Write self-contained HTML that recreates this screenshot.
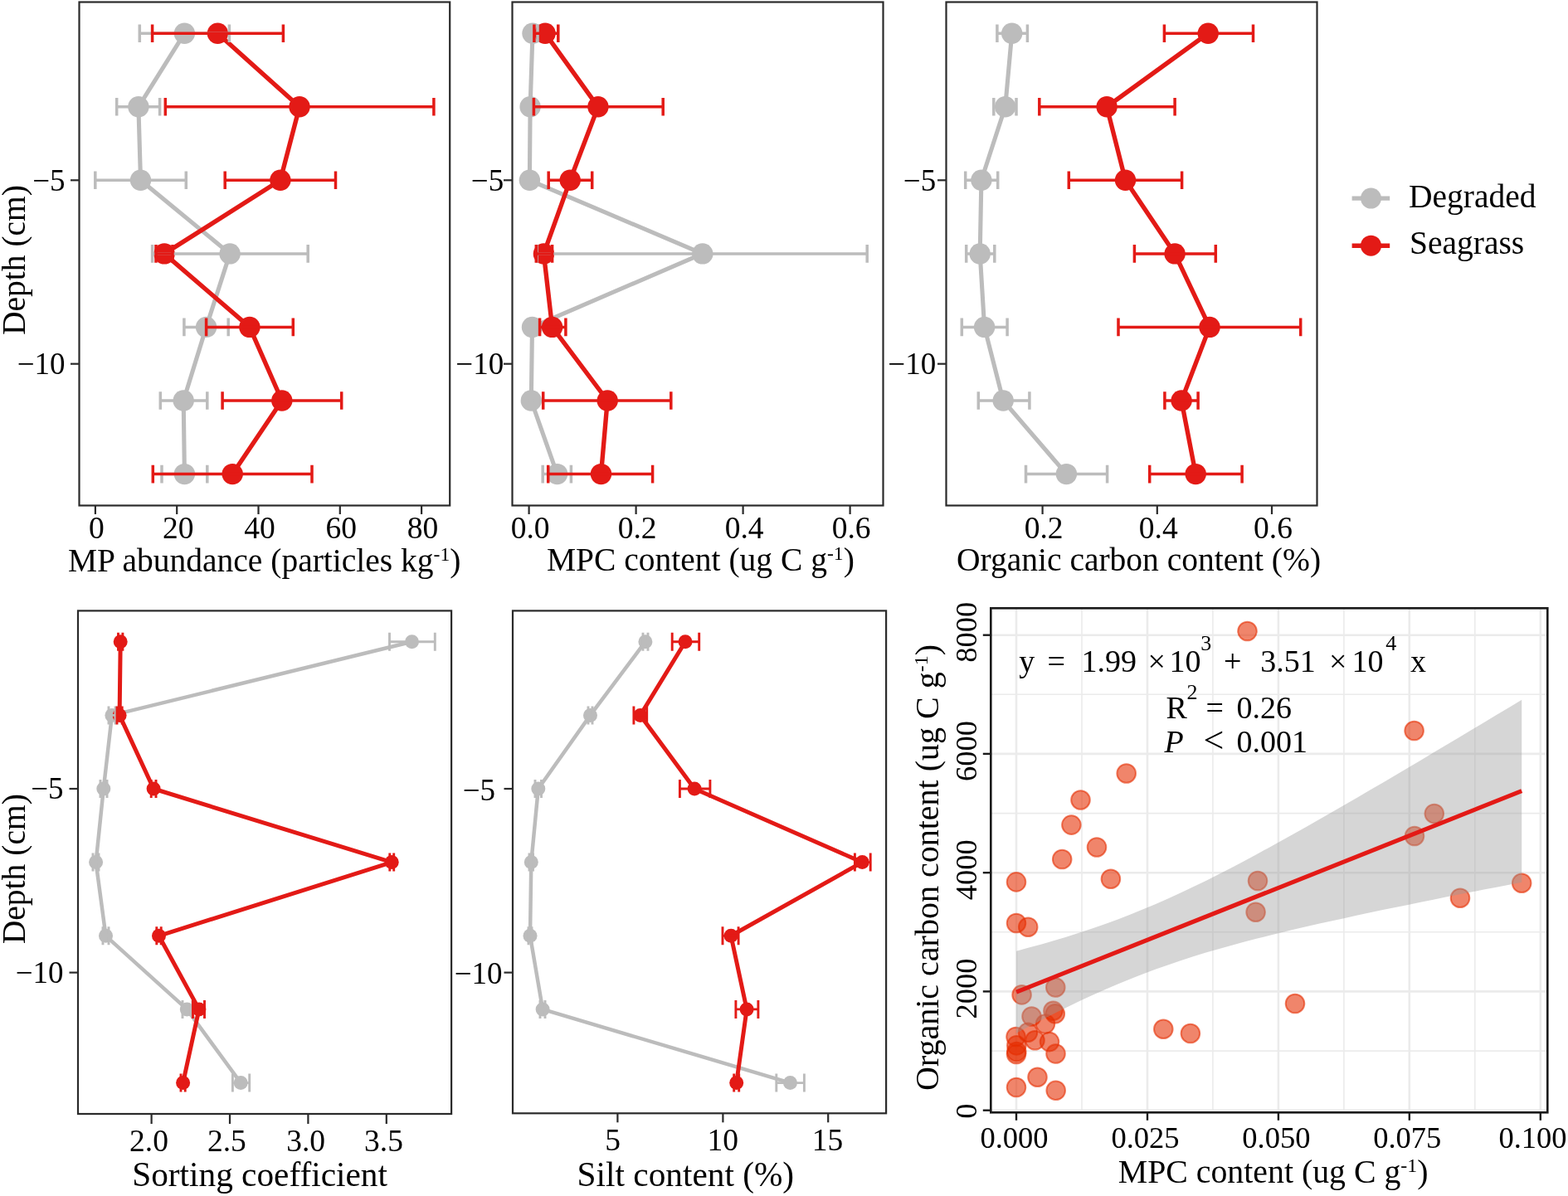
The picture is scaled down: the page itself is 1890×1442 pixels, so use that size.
<!DOCTYPE html><html><head><meta charset="utf-8"><title>Figure</title><style>html,body{margin:0;padding:0;background:#fff;}svg{display:block;}text{font-family:'Liberation Serif', 'Times New Roman', serif;fill:#000;}</style></head><body>
<svg width="1890" height="1442" viewBox="0 0 1890 1442">
<rect width="1890" height="1442" fill="#fff"/>
<polyline points="222.4,40.2 166.9,128.8 169.5,217.3 277.1,305.9 248.6,394.4 221.2,483.0 222.4,571.6" fill="none" stroke="#BCBCBC" stroke-width="5.1" stroke-linejoin="round"/>
<polyline points="262.4,40.2 361.0,128.8 337.9,217.3 198.1,305.9 300.9,394.4 339.8,483.0 280.2,571.6" fill="none" stroke="#E31A16" stroke-width="5.4" stroke-linejoin="round"/>
<circle cx="222.4" cy="40.2" r="12.7" fill="#BCBCBC"/>
<circle cx="166.9" cy="128.8" r="12.7" fill="#BCBCBC"/>
<circle cx="169.5" cy="217.3" r="12.7" fill="#BCBCBC"/>
<circle cx="277.1" cy="305.9" r="12.7" fill="#BCBCBC"/>
<circle cx="248.6" cy="394.4" r="12.7" fill="#BCBCBC"/>
<circle cx="221.2" cy="483.0" r="12.7" fill="#BCBCBC"/>
<circle cx="222.4" cy="571.6" r="12.7" fill="#BCBCBC"/>
<circle cx="262.4" cy="40.2" r="12.7" fill="#E31A16"/>
<circle cx="361.0" cy="128.8" r="12.7" fill="#E31A16"/>
<circle cx="337.9" cy="217.3" r="12.7" fill="#E31A16"/>
<circle cx="198.1" cy="305.9" r="12.7" fill="#E31A16"/>
<circle cx="300.9" cy="394.4" r="12.7" fill="#E31A16"/>
<circle cx="339.8" cy="483.0" r="12.7" fill="#E31A16"/>
<circle cx="280.2" cy="571.6" r="12.7" fill="#E31A16"/>
<path d="M168.3,40.2H276.4M168.3,29.4V51.0M276.4,29.4V51.0" stroke="#BCBCBC" stroke-width="3.5" fill="none"/>
<path d="M140.7,128.8H192.6M140.7,118.0V139.6M192.6,118.0V139.6" stroke="#BCBCBC" stroke-width="3.5" fill="none"/>
<path d="M114.8,217.3H224.3M114.8,206.5V228.1M224.3,206.5V228.1" stroke="#BCBCBC" stroke-width="3.5" fill="none"/>
<path d="M183.6,305.9H371.2M183.6,295.1V316.7M371.2,295.1V316.7" stroke="#BCBCBC" stroke-width="3.5" fill="none"/>
<path d="M221.9,394.4H275.2M221.9,383.6V405.2M275.2,383.6V405.2" stroke="#BCBCBC" stroke-width="3.5" fill="none"/>
<path d="M193.3,483.0H249.8M193.3,472.2V493.8M249.8,472.2V493.8" stroke="#BCBCBC" stroke-width="3.5" fill="none"/>
<path d="M195.0,571.6H249.8M195.0,560.8V582.4M249.8,560.8V582.4" stroke="#BCBCBC" stroke-width="3.5" fill="none"/>
<path d="M183.6,40.2H341.4M183.6,29.4V51.0M341.4,29.4V51.0" stroke="#E31A16" stroke-width="3.5" fill="none"/>
<path d="M199.3,128.8H522.9M199.3,118.0V139.6M522.9,118.0V139.6" stroke="#E31A16" stroke-width="3.5" fill="none"/>
<path d="M271.2,217.3H404.5M271.2,206.5V228.1M404.5,206.5V228.1" stroke="#E31A16" stroke-width="3.5" fill="none"/>
<path d="M188.0,305.9H208.0M188.0,295.1V316.7M208.0,295.1V316.7" stroke="#E31A16" stroke-width="3.5" fill="none"/>
<path d="M248.6,394.4H353.3M248.6,383.6V405.2M353.3,383.6V405.2" stroke="#E31A16" stroke-width="3.5" fill="none"/>
<path d="M268.1,483.0H411.7M268.1,472.2V493.8M411.7,472.2V493.8" stroke="#E31A16" stroke-width="3.5" fill="none"/>
<path d="M184.3,571.6H376.0M184.3,560.8V582.4M376.0,560.8V582.4" stroke="#E31A16" stroke-width="3.5" fill="none"/>
<rect x="95.5" y="2.5" width="446.70000000000005" height="607.0" fill="none" stroke="#2a2a2a" stroke-width="2.2"/>
<polyline points="642.0,40.2 639.1,128.8 638.4,217.3 846.8,305.9 641.5,394.4 640.3,483.0 671.6,571.6" fill="none" stroke="#BCBCBC" stroke-width="5.1" stroke-linejoin="round"/>
<polyline points="657.1,40.2 720.9,128.8 687.2,217.3 655.4,305.9 665.6,394.4 732.2,483.0 724.5,571.6" fill="none" stroke="#E31A16" stroke-width="5.4" stroke-linejoin="round"/>
<circle cx="642.0" cy="40.2" r="12.7" fill="#BCBCBC"/>
<circle cx="639.1" cy="128.8" r="12.7" fill="#BCBCBC"/>
<circle cx="638.4" cy="217.3" r="12.7" fill="#BCBCBC"/>
<circle cx="846.8" cy="305.9" r="12.7" fill="#BCBCBC"/>
<circle cx="641.5" cy="394.4" r="12.7" fill="#BCBCBC"/>
<circle cx="640.3" cy="483.0" r="12.7" fill="#BCBCBC"/>
<circle cx="671.6" cy="571.6" r="12.7" fill="#BCBCBC"/>
<circle cx="657.1" cy="40.2" r="12.7" fill="#E31A16"/>
<circle cx="720.9" cy="128.8" r="12.7" fill="#E31A16"/>
<circle cx="687.2" cy="217.3" r="12.7" fill="#E31A16"/>
<circle cx="655.4" cy="305.9" r="12.7" fill="#E31A16"/>
<circle cx="665.6" cy="394.4" r="12.7" fill="#E31A16"/>
<circle cx="732.2" cy="483.0" r="12.7" fill="#E31A16"/>
<circle cx="724.5" cy="571.6" r="12.7" fill="#E31A16"/>
<path d="M637.0,40.2H648.0M637.0,29.4V51.0M648.0,29.4V51.0" stroke="#BCBCBC" stroke-width="3.5" fill="none"/>
<path d="M635.0,128.8H643.0M635.0,118.0V139.6M643.0,118.0V139.6" stroke="#BCBCBC" stroke-width="3.5" fill="none"/>
<path d="M635.0,217.3H642.0M635.0,206.5V228.1M642.0,206.5V228.1" stroke="#BCBCBC" stroke-width="3.5" fill="none"/>
<path d="M647.0,305.9H1045.2M647.0,295.1V316.7M1045.2,295.1V316.7" stroke="#BCBCBC" stroke-width="3.5" fill="none"/>
<path d="M637.0,394.4H646.0M637.0,383.6V405.2M646.0,383.6V405.2" stroke="#BCBCBC" stroke-width="3.5" fill="none"/>
<path d="M636.0,483.0H645.0M636.0,472.2V493.8M645.0,472.2V493.8" stroke="#BCBCBC" stroke-width="3.5" fill="none"/>
<path d="M654.2,571.6H688.4M654.2,560.8V582.4M688.4,560.8V582.4" stroke="#BCBCBC" stroke-width="3.5" fill="none"/>
<path d="M643.9,40.2H672.8M643.9,29.4V51.0M672.8,29.4V51.0" stroke="#E31A16" stroke-width="3.5" fill="none"/>
<path d="M643.4,128.8H799.2M643.4,118.0V139.6M799.2,118.0V139.6" stroke="#E31A16" stroke-width="3.5" fill="none"/>
<path d="M661.2,217.3H713.7M661.2,206.5V228.1M713.7,206.5V228.1" stroke="#E31A16" stroke-width="3.5" fill="none"/>
<path d="M646.3,305.9H665.6M646.3,295.1V316.7M665.6,295.1V316.7" stroke="#E31A16" stroke-width="3.5" fill="none"/>
<path d="M650.6,394.4H681.9M650.6,383.6V405.2M681.9,383.6V405.2" stroke="#E31A16" stroke-width="3.5" fill="none"/>
<path d="M654.7,483.0H808.8M654.7,472.2V493.8M808.8,472.2V493.8" stroke="#E31A16" stroke-width="3.5" fill="none"/>
<path d="M660.7,571.6H786.6M660.7,560.8V582.4M786.6,560.8V582.4" stroke="#E31A16" stroke-width="3.5" fill="none"/>
<rect x="617.5" y="2.5" width="447.0" height="607.0" fill="none" stroke="#2a2a2a" stroke-width="2.2"/>
<polyline points="1219.7,40.2 1211.7,128.8 1182.9,217.3 1181.2,305.9 1186.6,394.4 1209.2,483.0 1285.4,571.6" fill="none" stroke="#BCBCBC" stroke-width="5.1" stroke-linejoin="round"/>
<polyline points="1456.2,40.2 1334.1,128.8 1356.5,217.3 1416.1,305.9 1458.0,394.4 1424.1,483.0 1441.2,571.6" fill="none" stroke="#E31A16" stroke-width="5.4" stroke-linejoin="round"/>
<circle cx="1219.7" cy="40.2" r="12.7" fill="#BCBCBC"/>
<circle cx="1211.7" cy="128.8" r="12.7" fill="#BCBCBC"/>
<circle cx="1182.9" cy="217.3" r="12.7" fill="#BCBCBC"/>
<circle cx="1181.2" cy="305.9" r="12.7" fill="#BCBCBC"/>
<circle cx="1186.6" cy="394.4" r="12.7" fill="#BCBCBC"/>
<circle cx="1209.2" cy="483.0" r="12.7" fill="#BCBCBC"/>
<circle cx="1285.4" cy="571.6" r="12.7" fill="#BCBCBC"/>
<circle cx="1456.2" cy="40.2" r="12.7" fill="#E31A16"/>
<circle cx="1334.1" cy="128.8" r="12.7" fill="#E31A16"/>
<circle cx="1356.5" cy="217.3" r="12.7" fill="#E31A16"/>
<circle cx="1416.1" cy="305.9" r="12.7" fill="#E31A16"/>
<circle cx="1458.0" cy="394.4" r="12.7" fill="#E31A16"/>
<circle cx="1424.1" cy="483.0" r="12.7" fill="#E31A16"/>
<circle cx="1441.2" cy="571.6" r="12.7" fill="#E31A16"/>
<path d="M1201.9,40.2H1238.4M1201.9,29.4V51.0M1238.4,29.4V51.0" stroke="#BCBCBC" stroke-width="3.5" fill="none"/>
<path d="M1197.8,128.8H1225.0M1197.8,118.0V139.6M1225.0,118.0V139.6" stroke="#BCBCBC" stroke-width="3.5" fill="none"/>
<path d="M1163.7,217.3H1202.7M1163.7,206.5V228.1M1202.7,206.5V228.1" stroke="#BCBCBC" stroke-width="3.5" fill="none"/>
<path d="M1164.7,305.9H1198.8M1164.7,295.1V316.7M1198.8,295.1V316.7" stroke="#BCBCBC" stroke-width="3.5" fill="none"/>
<path d="M1159.3,394.4H1214.1M1159.3,383.6V405.2M1214.1,383.6V405.2" stroke="#BCBCBC" stroke-width="3.5" fill="none"/>
<path d="M1179.3,483.0H1240.9M1179.3,472.2V493.8M1240.9,472.2V493.8" stroke="#BCBCBC" stroke-width="3.5" fill="none"/>
<path d="M1236.5,571.6H1334.6M1236.5,560.8V582.4M1334.6,560.8V582.4" stroke="#BCBCBC" stroke-width="3.5" fill="none"/>
<path d="M1403.4,40.2H1510.5M1403.4,29.4V51.0M1510.5,29.4V51.0" stroke="#E31A16" stroke-width="3.5" fill="none"/>
<path d="M1252.8,128.8H1416.1M1252.8,118.0V139.6M1416.1,118.0V139.6" stroke="#E31A16" stroke-width="3.5" fill="none"/>
<path d="M1288.3,217.3H1424.6M1288.3,206.5V228.1M1424.6,206.5V228.1" stroke="#E31A16" stroke-width="3.5" fill="none"/>
<path d="M1367.4,305.9H1465.3M1367.4,295.1V316.7M1465.3,295.1V316.7" stroke="#E31A16" stroke-width="3.5" fill="none"/>
<path d="M1348.0,394.4H1567.7M1348.0,383.6V405.2M1567.7,383.6V405.2" stroke="#E31A16" stroke-width="3.5" fill="none"/>
<path d="M1403.9,483.0H1444.1M1403.9,472.2V493.8M1444.1,472.2V493.8" stroke="#E31A16" stroke-width="3.5" fill="none"/>
<path d="M1385.7,571.6H1497.1M1385.7,560.8V582.4M1497.1,560.8V582.4" stroke="#E31A16" stroke-width="3.5" fill="none"/>
<rect x="1140.5" y="2.5" width="447.0" height="607.0" fill="none" stroke="#2a2a2a" stroke-width="2.2"/>
<polyline points="496.5,773.7 134.9,862.4 124.8,951.0 115.6,1039.6 127.5,1128.3 225.3,1216.9 290.2,1305.6" fill="none" stroke="#BCBCBC" stroke-width="4.5" stroke-linejoin="round"/>
<polyline points="145.2,773.7 144.1,862.4 185.1,951.0 472.2,1039.6 191.5,1128.3 239.9,1216.9 220.6,1305.6" fill="none" stroke="#E31A16" stroke-width="5.0" stroke-linejoin="round"/>
<circle cx="496.5" cy="773.7" r="8.5" fill="#BCBCBC"/>
<circle cx="134.9" cy="862.4" r="8.5" fill="#BCBCBC"/>
<circle cx="124.8" cy="951.0" r="8.5" fill="#BCBCBC"/>
<circle cx="115.6" cy="1039.6" r="8.5" fill="#BCBCBC"/>
<circle cx="127.5" cy="1128.3" r="8.5" fill="#BCBCBC"/>
<circle cx="225.3" cy="1216.9" r="8.5" fill="#BCBCBC"/>
<circle cx="290.2" cy="1305.6" r="8.5" fill="#BCBCBC"/>
<circle cx="145.2" cy="773.7" r="8.5" fill="#E31A16"/>
<circle cx="144.1" cy="862.4" r="8.5" fill="#E31A16"/>
<circle cx="185.1" cy="951.0" r="8.5" fill="#E31A16"/>
<circle cx="472.2" cy="1039.6" r="8.5" fill="#E31A16"/>
<circle cx="191.5" cy="1128.3" r="8.5" fill="#E31A16"/>
<circle cx="239.9" cy="1216.9" r="8.5" fill="#E31A16"/>
<circle cx="220.6" cy="1305.6" r="8.5" fill="#E31A16"/>
<path d="M469.5,773.7H524.3M469.5,762.7V784.7M524.3,762.7V784.7" stroke="#BCBCBC" stroke-width="2.9" fill="none"/>
<path d="M131.0,862.4H139.0M131.0,851.4V873.4M139.0,851.4V873.4" stroke="#BCBCBC" stroke-width="2.9" fill="none"/>
<path d="M121.0,951.0H129.0M121.0,940.0V962.0M129.0,940.0V962.0" stroke="#BCBCBC" stroke-width="2.9" fill="none"/>
<path d="M112.0,1039.6H119.0M112.0,1028.6V1050.6M119.0,1028.6V1050.6" stroke="#BCBCBC" stroke-width="2.9" fill="none"/>
<path d="M124.0,1128.3H131.0M124.0,1117.3V1139.3M131.0,1117.3V1139.3" stroke="#BCBCBC" stroke-width="2.9" fill="none"/>
<path d="M220.0,1216.9H232.0M220.0,1205.9V1227.9M232.0,1205.9V1227.9" stroke="#BCBCBC" stroke-width="2.9" fill="none"/>
<path d="M280.4,1305.6H300.7M280.4,1294.6V1316.6M300.7,1294.6V1316.6" stroke="#BCBCBC" stroke-width="2.9" fill="none"/>
<path d="M142.5,773.7H147.9M142.5,762.7V784.7M147.9,762.7V784.7" stroke="#E31A16" stroke-width="2.9" fill="none"/>
<path d="M141.0,862.4H147.2M141.0,851.4V873.4M147.2,851.4V873.4" stroke="#E31A16" stroke-width="2.9" fill="none"/>
<path d="M182.2,951.0H188.0M182.2,940.0V962.0M188.0,940.0V962.0" stroke="#E31A16" stroke-width="2.9" fill="none"/>
<path d="M469.8,1039.6H474.7M469.8,1028.6V1050.6M474.7,1028.6V1050.6" stroke="#E31A16" stroke-width="2.9" fill="none"/>
<path d="M188.8,1128.3H194.2M188.8,1117.3V1139.3M194.2,1117.3V1139.3" stroke="#E31A16" stroke-width="2.9" fill="none"/>
<path d="M232.5,1216.9H246.5M232.5,1205.9V1227.9M246.5,1205.9V1227.9" stroke="#E31A16" stroke-width="2.9" fill="none"/>
<path d="M218.0,1305.6H223.2M218.0,1294.6V1316.6M223.2,1294.6V1316.6" stroke="#E31A16" stroke-width="2.9" fill="none"/>
<rect x="94" y="736.4" width="450.1" height="606.6" fill="none" stroke="#2a2a2a" stroke-width="2.2"/>
<polyline points="777.9,773.7 711.5,862.4 648.8,951.0 640.3,1039.6 639.0,1128.3 654.1,1216.9 952.5,1305.6" fill="none" stroke="#BCBCBC" stroke-width="4.5" stroke-linejoin="round"/>
<polyline points="826.0,773.7 771.8,862.4 837.1,951.0 1039.3,1039.6 881.1,1128.3 900.1,1216.9 887.7,1305.6" fill="none" stroke="#E31A16" stroke-width="5.0" stroke-linejoin="round"/>
<circle cx="777.9" cy="773.7" r="8.5" fill="#BCBCBC"/>
<circle cx="711.5" cy="862.4" r="8.5" fill="#BCBCBC"/>
<circle cx="648.8" cy="951.0" r="8.5" fill="#BCBCBC"/>
<circle cx="640.3" cy="1039.6" r="8.5" fill="#BCBCBC"/>
<circle cx="639.0" cy="1128.3" r="8.5" fill="#BCBCBC"/>
<circle cx="654.1" cy="1216.9" r="8.5" fill="#BCBCBC"/>
<circle cx="952.5" cy="1305.6" r="8.5" fill="#BCBCBC"/>
<circle cx="826.0" cy="773.7" r="8.5" fill="#E31A16"/>
<circle cx="771.8" cy="862.4" r="8.5" fill="#E31A16"/>
<circle cx="837.1" cy="951.0" r="8.5" fill="#E31A16"/>
<circle cx="1039.3" cy="1039.6" r="8.5" fill="#E31A16"/>
<circle cx="881.1" cy="1128.3" r="8.5" fill="#E31A16"/>
<circle cx="900.1" cy="1216.9" r="8.5" fill="#E31A16"/>
<circle cx="887.7" cy="1305.6" r="8.5" fill="#E31A16"/>
<path d="M775.0,773.7H781.0M775.0,762.7V784.7M781.0,762.7V784.7" stroke="#BCBCBC" stroke-width="2.9" fill="none"/>
<path d="M709.0,862.4H714.0M709.0,851.4V873.4M714.0,851.4V873.4" stroke="#BCBCBC" stroke-width="2.9" fill="none"/>
<path d="M645.0,951.0H652.5M645.0,940.0V962.0M652.5,940.0V962.0" stroke="#BCBCBC" stroke-width="2.9" fill="none"/>
<path d="M638.0,1039.6H642.5M638.0,1028.6V1050.6M642.5,1028.6V1050.6" stroke="#BCBCBC" stroke-width="2.9" fill="none"/>
<path d="M637.0,1128.3H641.0M637.0,1117.3V1139.3M641.0,1117.3V1139.3" stroke="#BCBCBC" stroke-width="2.9" fill="none"/>
<path d="M651.0,1216.9H657.0M651.0,1205.9V1227.9M657.0,1205.9V1227.9" stroke="#BCBCBC" stroke-width="2.9" fill="none"/>
<path d="M935.8,1305.6H969.4M935.8,1294.6V1316.6M969.4,1294.6V1316.6" stroke="#BCBCBC" stroke-width="2.9" fill="none"/>
<path d="M810.2,773.7H842.7M810.2,762.7V784.7M842.7,762.7V784.7" stroke="#E31A16" stroke-width="2.9" fill="none"/>
<path d="M763.9,862.4H779.7M763.9,851.4V873.4M779.7,851.4V873.4" stroke="#E31A16" stroke-width="2.9" fill="none"/>
<path d="M819.4,951.0H855.9M819.4,940.0V962.0M855.9,940.0V962.0" stroke="#E31A16" stroke-width="2.9" fill="none"/>
<path d="M1030.4,1039.6H1049.2M1030.4,1028.6V1050.6M1049.2,1028.6V1050.6" stroke="#E31A16" stroke-width="2.9" fill="none"/>
<path d="M871.0,1128.3H890.1M871.0,1117.3V1139.3M890.1,1117.3V1139.3" stroke="#E31A16" stroke-width="2.9" fill="none"/>
<path d="M886.9,1216.9H913.9M886.9,1205.9V1227.9M913.9,1205.9V1227.9" stroke="#E31A16" stroke-width="2.9" fill="none"/>
<path d="M884.7,1305.6H890.7M884.7,1294.6V1316.6M890.7,1294.6V1316.6" stroke="#E31A16" stroke-width="2.9" fill="none"/>
<rect x="618" y="736.4" width="450.0999999999999" height="605.9" fill="none" stroke="#2a2a2a" stroke-width="2.2"/>
<line x1="85.0" y1="217.3" x2="95.5" y2="217.3" stroke="#2a2a2a" stroke-width="2.2"/>
<text x="78.6" y="229.6" text-anchor="end" font-size="37">−5</text>
<line x1="85.0" y1="438.7" x2="95.5" y2="438.7" stroke="#2a2a2a" stroke-width="2.2"/>
<text x="78.6" y="451.0" text-anchor="end" font-size="37">−10</text>
<line x1="607.0" y1="217.3" x2="617.5" y2="217.3" stroke="#2a2a2a" stroke-width="2.2"/>
<text x="607.2" y="229.6" text-anchor="end" font-size="37">−5</text>
<line x1="607.0" y1="438.7" x2="617.5" y2="438.7" stroke="#2a2a2a" stroke-width="2.2"/>
<text x="607.2" y="451.0" text-anchor="end" font-size="37">−10</text>
<line x1="1130.0" y1="217.3" x2="1140.5" y2="217.3" stroke="#2a2a2a" stroke-width="2.2"/>
<text x="1128.2" y="229.6" text-anchor="end" font-size="37">−5</text>
<line x1="1130.0" y1="438.7" x2="1140.5" y2="438.7" stroke="#2a2a2a" stroke-width="2.2"/>
<text x="1128.2" y="451.0" text-anchor="end" font-size="37">−10</text>
<line x1="83.5" y1="951.0" x2="94" y2="951.0" stroke="#2a2a2a" stroke-width="2.2"/>
<text x="76.6" y="963.3" text-anchor="end" font-size="37">−5</text>
<line x1="83.5" y1="1172.6" x2="94" y2="1172.6" stroke="#2a2a2a" stroke-width="2.2"/>
<text x="76.6" y="1184.9" text-anchor="end" font-size="37">−10</text>
<line x1="607.5" y1="951.0" x2="618" y2="951.0" stroke="#2a2a2a" stroke-width="2.2"/>
<text x="577.4" y="964.8" text-anchor="middle" font-size="37">−5</text>
<line x1="607.5" y1="1172.6" x2="618" y2="1172.6" stroke="#2a2a2a" stroke-width="2.2"/>
<text x="576.6" y="1185.6" text-anchor="middle" font-size="37">−10</text>
<line x1="114.9" y1="609.5" x2="114.9" y2="620.0" stroke="#2a2a2a" stroke-width="2.2"/>
<text x="116.4" y="648.6" text-anchor="middle" font-size="37.5">0</text>
<line x1="213.2" y1="609.5" x2="213.2" y2="620.0" stroke="#2a2a2a" stroke-width="2.2"/>
<text x="214.7" y="648.6" text-anchor="middle" font-size="37.5">20</text>
<line x1="311.5" y1="609.5" x2="311.5" y2="620.0" stroke="#2a2a2a" stroke-width="2.2"/>
<text x="313.0" y="648.6" text-anchor="middle" font-size="37.5">40</text>
<line x1="409.8" y1="609.5" x2="409.8" y2="620.0" stroke="#2a2a2a" stroke-width="2.2"/>
<text x="411.3" y="648.6" text-anchor="middle" font-size="37.5">60</text>
<line x1="508.1" y1="609.5" x2="508.1" y2="620.0" stroke="#2a2a2a" stroke-width="2.2"/>
<text x="509.6" y="648.6" text-anchor="middle" font-size="37.5">80</text>
<line x1="637.6" y1="609.5" x2="637.6" y2="620.0" stroke="#2a2a2a" stroke-width="2.2"/>
<text x="639.1" y="648.6" text-anchor="middle" font-size="37.5">0.0</text>
<line x1="766.6" y1="609.5" x2="766.6" y2="620.0" stroke="#2a2a2a" stroke-width="2.2"/>
<text x="768.1" y="648.6" text-anchor="middle" font-size="37.5">0.2</text>
<line x1="895.6" y1="609.5" x2="895.6" y2="620.0" stroke="#2a2a2a" stroke-width="2.2"/>
<text x="897.1" y="648.6" text-anchor="middle" font-size="37.5">0.4</text>
<line x1="1024.6" y1="609.5" x2="1024.6" y2="620.0" stroke="#2a2a2a" stroke-width="2.2"/>
<text x="1026.1" y="648.6" text-anchor="middle" font-size="37.5">0.6</text>
<line x1="1256.6" y1="609.5" x2="1256.6" y2="620.0" stroke="#2a2a2a" stroke-width="2.2"/>
<text x="1258.1" y="648.6" text-anchor="middle" font-size="37.5">0.2</text>
<line x1="1394.8" y1="609.5" x2="1394.8" y2="620.0" stroke="#2a2a2a" stroke-width="2.2"/>
<text x="1396.3" y="648.6" text-anchor="middle" font-size="37.5">0.4</text>
<line x1="1533.0" y1="609.5" x2="1533.0" y2="620.0" stroke="#2a2a2a" stroke-width="2.2"/>
<text x="1534.5" y="648.6" text-anchor="middle" font-size="37.5">0.6</text>
<line x1="182.6" y1="1343" x2="182.6" y2="1355" stroke="#2a2a2a" stroke-width="2.2"/>
<text x="179.5" y="1388.2" text-anchor="middle" font-size="37.5">2.0</text>
<line x1="277.0" y1="1343" x2="277.0" y2="1355" stroke="#2a2a2a" stroke-width="2.2"/>
<text x="273.4" y="1388.2" text-anchor="middle" font-size="37.5">2.5</text>
<line x1="371.4" y1="1343" x2="371.4" y2="1355" stroke="#2a2a2a" stroke-width="2.2"/>
<text x="368.6" y="1388.2" text-anchor="middle" font-size="37.5">3.0</text>
<line x1="465.8" y1="1343" x2="465.8" y2="1355" stroke="#2a2a2a" stroke-width="2.2"/>
<text x="462.5" y="1388.2" text-anchor="middle" font-size="37.5">3.5</text>
<line x1="744.4" y1="1342.3" x2="744.4" y2="1353.3" stroke="#2a2a2a" stroke-width="2.2"/>
<text x="738.6" y="1386.7" text-anchor="middle" font-size="37.5">5</text>
<line x1="871.4" y1="1342.3" x2="871.4" y2="1353.3" stroke="#2a2a2a" stroke-width="2.2"/>
<text x="871.3" y="1386.7" text-anchor="middle" font-size="37.5">10</text>
<line x1="998.2" y1="1342.3" x2="998.2" y2="1353.3" stroke="#2a2a2a" stroke-width="2.2"/>
<text x="997.4" y="1386.7" text-anchor="middle" font-size="37.5">15</text>
<text x="82" y="689" font-size="39.5">MP abundance (particles kg<tspan font-size="23.7" dy="-12.6">-1</tspan><tspan dy="12.6">)</tspan></text>
<text x="659" y="688" font-size="39.5">MPC content (ug C g<tspan font-size="23.7" dy="-12.6">-1</tspan><tspan dy="12.6">)</tspan></text>
<text x="1153" y="687.5" font-size="39.5">Organic carbon content (%)</text>
<text x="159.2" y="1430.3" font-size="41.3">Sorting coefficient</text>
<text x="695.6" y="1430" font-size="41.3">Silt content (%)</text>
<text x="1347.8" y="1426" font-size="39.8">MPC content (ug C g<tspan font-size="23.9" dy="-12.7">-1</tspan><tspan dy="12.7">)</tspan></text>
<text transform="translate(29.5,313.5) rotate(-90)" text-anchor="middle" font-size="39.5">Depth (cm)</text>
<text transform="translate(29.5,1047.7) rotate(-90)" text-anchor="middle" font-size="39.5">Depth (cm)</text>
<line x1="1629.6" y1="239.1" x2="1675.2" y2="239.1" stroke="#BCBCBC" stroke-width="5.4"/>
<circle cx="1652.5" cy="239.1" r="12.5" fill="#BCBCBC"/>
<line x1="1629.6" y1="296.2" x2="1675.2" y2="296.2" stroke="#E31A16" stroke-width="5.4"/>
<circle cx="1652.5" cy="296.2" r="12.5" fill="#E31A16"/>
<text x="1698" y="249.9" font-size="39.5">Degraded</text>
<text x="1699" y="305.9" font-size="39.5">Seagrass</text>
<clipPath id="sc"><rect x="1194.3" y="733.3" width="671.0" height="608.0"/></clipPath>
<g clip-path="url(#sc)">
<line x1="1304.0" y1="733.3" x2="1304.0" y2="1341.3" stroke="#EBEBEB" stroke-width="1.6"/>
<line x1="1461.9" y1="733.3" x2="1461.9" y2="1341.3" stroke="#EBEBEB" stroke-width="1.6"/>
<line x1="1619.9" y1="733.3" x2="1619.9" y2="1341.3" stroke="#EBEBEB" stroke-width="1.6"/>
<line x1="1777.8" y1="733.3" x2="1777.8" y2="1341.3" stroke="#EBEBEB" stroke-width="1.6"/>
<line x1="1194.3" y1="1267.1" x2="1865.3" y2="1267.1" stroke="#EBEBEB" stroke-width="1.6"/>
<line x1="1194.3" y1="1123.8" x2="1865.3" y2="1123.8" stroke="#EBEBEB" stroke-width="1.6"/>
<line x1="1194.3" y1="980.6" x2="1865.3" y2="980.6" stroke="#EBEBEB" stroke-width="1.6"/>
<line x1="1194.3" y1="837.3" x2="1865.3" y2="837.3" stroke="#EBEBEB" stroke-width="1.6"/>
<line x1="1225.0" y1="733.3" x2="1225.0" y2="1341.3" stroke="#EBEBEB" stroke-width="2.6"/>
<line x1="1383.0" y1="733.3" x2="1383.0" y2="1341.3" stroke="#EBEBEB" stroke-width="2.6"/>
<line x1="1540.9" y1="733.3" x2="1540.9" y2="1341.3" stroke="#EBEBEB" stroke-width="2.6"/>
<line x1="1698.8" y1="733.3" x2="1698.8" y2="1341.3" stroke="#EBEBEB" stroke-width="2.6"/>
<line x1="1856.8" y1="733.3" x2="1856.8" y2="1341.3" stroke="#EBEBEB" stroke-width="2.6"/>
<line x1="1194.3" y1="1338.7" x2="1865.3" y2="1338.7" stroke="#EBEBEB" stroke-width="2.6"/>
<line x1="1194.3" y1="1195.4" x2="1865.3" y2="1195.4" stroke="#EBEBEB" stroke-width="2.6"/>
<line x1="1194.3" y1="1052.2" x2="1865.3" y2="1052.2" stroke="#EBEBEB" stroke-width="2.6"/>
<line x1="1194.3" y1="908.9" x2="1865.3" y2="908.9" stroke="#EBEBEB" stroke-width="2.6"/>
<line x1="1194.3" y1="765.7" x2="1865.3" y2="765.7" stroke="#EBEBEB" stroke-width="2.6"/>
<circle cx="1503.5" cy="761" r="11.3" fill="#E62D00" fill-opacity="0.58" stroke="#E62D00" stroke-opacity="0.58" stroke-width="2"/>
<circle cx="1704.6" cy="881" r="11.3" fill="#E62D00" fill-opacity="0.58" stroke="#E62D00" stroke-opacity="0.58" stroke-width="2"/>
<circle cx="1357.7" cy="932.5" r="11.3" fill="#E62D00" fill-opacity="0.58" stroke="#E62D00" stroke-opacity="0.58" stroke-width="2"/>
<circle cx="1302.5" cy="964.5" r="11.3" fill="#E62D00" fill-opacity="0.58" stroke="#E62D00" stroke-opacity="0.58" stroke-width="2"/>
<circle cx="1291.4" cy="994.6" r="11.3" fill="#E62D00" fill-opacity="0.58" stroke="#E62D00" stroke-opacity="0.58" stroke-width="2"/>
<circle cx="1322" cy="1021.5" r="11.3" fill="#E62D00" fill-opacity="0.58" stroke="#E62D00" stroke-opacity="0.58" stroke-width="2"/>
<circle cx="1280.2" cy="1036" r="11.3" fill="#E62D00" fill-opacity="0.58" stroke="#E62D00" stroke-opacity="0.58" stroke-width="2"/>
<circle cx="1338.9" cy="1059.7" r="11.3" fill="#E62D00" fill-opacity="0.58" stroke="#E62D00" stroke-opacity="0.58" stroke-width="2"/>
<circle cx="1225" cy="1063.4" r="11.3" fill="#E62D00" fill-opacity="0.58" stroke="#E62D00" stroke-opacity="0.58" stroke-width="2"/>
<circle cx="1516" cy="1062" r="11.3" fill="#E62D00" fill-opacity="0.58" stroke="#E62D00" stroke-opacity="0.58" stroke-width="2"/>
<circle cx="1728.8" cy="981" r="11.3" fill="#E62D00" fill-opacity="0.58" stroke="#E62D00" stroke-opacity="0.58" stroke-width="2"/>
<circle cx="1705" cy="1008" r="11.3" fill="#E62D00" fill-opacity="0.58" stroke="#E62D00" stroke-opacity="0.58" stroke-width="2"/>
<circle cx="1834.2" cy="1064.8" r="11.3" fill="#E62D00" fill-opacity="0.58" stroke="#E62D00" stroke-opacity="0.58" stroke-width="2"/>
<circle cx="1760" cy="1082.8" r="11.3" fill="#E62D00" fill-opacity="0.58" stroke="#E62D00" stroke-opacity="0.58" stroke-width="2"/>
<circle cx="1513.6" cy="1099.8" r="11.3" fill="#E62D00" fill-opacity="0.58" stroke="#E62D00" stroke-opacity="0.58" stroke-width="2"/>
<circle cx="1225" cy="1113" r="11.3" fill="#E62D00" fill-opacity="0.58" stroke="#E62D00" stroke-opacity="0.58" stroke-width="2"/>
<circle cx="1239.2" cy="1117.7" r="11.3" fill="#E62D00" fill-opacity="0.58" stroke="#E62D00" stroke-opacity="0.58" stroke-width="2"/>
<circle cx="1561" cy="1210" r="11.3" fill="#E62D00" fill-opacity="0.58" stroke="#E62D00" stroke-opacity="0.58" stroke-width="2"/>
<circle cx="1402.3" cy="1240.8" r="11.3" fill="#E62D00" fill-opacity="0.58" stroke="#E62D00" stroke-opacity="0.58" stroke-width="2"/>
<circle cx="1434.9" cy="1246" r="11.3" fill="#E62D00" fill-opacity="0.58" stroke="#E62D00" stroke-opacity="0.58" stroke-width="2"/>
<circle cx="1231.6" cy="1199.4" r="11.3" fill="#E62D00" fill-opacity="0.58" stroke="#E62D00" stroke-opacity="0.58" stroke-width="2"/>
<circle cx="1272.3" cy="1190.5" r="11.3" fill="#E62D00" fill-opacity="0.58" stroke="#E62D00" stroke-opacity="0.58" stroke-width="2"/>
<circle cx="1243.5" cy="1225.5" r="11.3" fill="#E62D00" fill-opacity="0.58" stroke="#E62D00" stroke-opacity="0.58" stroke-width="2"/>
<circle cx="1269.4" cy="1218.8" r="11.3" fill="#E62D00" fill-opacity="0.58" stroke="#E62D00" stroke-opacity="0.58" stroke-width="2"/>
<circle cx="1271.8" cy="1222.3" r="11.3" fill="#E62D00" fill-opacity="0.58" stroke="#E62D00" stroke-opacity="0.58" stroke-width="2"/>
<circle cx="1260" cy="1234.5" r="11.3" fill="#E62D00" fill-opacity="0.58" stroke="#E62D00" stroke-opacity="0.58" stroke-width="2"/>
<circle cx="1239" cy="1244.8" r="11.3" fill="#E62D00" fill-opacity="0.58" stroke="#E62D00" stroke-opacity="0.58" stroke-width="2"/>
<circle cx="1224.5" cy="1250" r="11.3" fill="#E62D00" fill-opacity="0.58" stroke="#E62D00" stroke-opacity="0.58" stroke-width="2"/>
<circle cx="1225.3" cy="1260.4" r="11.3" fill="#E62D00" fill-opacity="0.58" stroke="#E62D00" stroke-opacity="0.58" stroke-width="2"/>
<circle cx="1225.3" cy="1268" r="11.3" fill="#E62D00" fill-opacity="0.58" stroke="#E62D00" stroke-opacity="0.58" stroke-width="2"/>
<circle cx="1225" cy="1271" r="11.3" fill="#E62D00" fill-opacity="0.58" stroke="#E62D00" stroke-opacity="0.58" stroke-width="2"/>
<circle cx="1247.5" cy="1254.2" r="11.3" fill="#E62D00" fill-opacity="0.58" stroke="#E62D00" stroke-opacity="0.58" stroke-width="2"/>
<circle cx="1265" cy="1256.1" r="11.3" fill="#E62D00" fill-opacity="0.58" stroke="#E62D00" stroke-opacity="0.58" stroke-width="2"/>
<circle cx="1272.5" cy="1270.5" r="11.3" fill="#E62D00" fill-opacity="0.58" stroke="#E62D00" stroke-opacity="0.58" stroke-width="2"/>
<circle cx="1250.5" cy="1298.7" r="11.3" fill="#E62D00" fill-opacity="0.58" stroke="#E62D00" stroke-opacity="0.58" stroke-width="2"/>
<circle cx="1225" cy="1311" r="11.3" fill="#E62D00" fill-opacity="0.58" stroke="#E62D00" stroke-opacity="0.58" stroke-width="2"/>
<circle cx="1272.7" cy="1314.8" r="11.3" fill="#E62D00" fill-opacity="0.58" stroke="#E62D00" stroke-opacity="0.58" stroke-width="2"/>
<polygon points="1225.0,1146.7 1240.2,1142.6 1255.5,1138.4 1270.7,1134.0 1285.9,1129.4 1301.2,1124.6 1316.4,1119.5 1331.6,1114.2 1346.8,1108.7 1362.1,1102.8 1377.3,1096.6 1392.5,1090.2 1407.8,1083.5 1423.0,1076.5 1438.2,1069.3 1453.5,1061.9 1468.7,1054.2 1483.9,1046.4 1499.1,1038.4 1514.4,1030.2 1529.6,1021.9 1544.8,1013.5 1560.1,1005.0 1575.3,996.5 1590.5,987.8 1605.8,979.1 1621.0,970.3 1636.2,961.5 1651.4,952.6 1666.7,943.7 1681.9,934.7 1697.1,925.7 1712.4,916.7 1727.6,907.6 1742.8,898.5 1758.0,889.4 1773.3,880.3 1788.5,871.2 1803.7,862.0 1819.0,852.9 1834.2,843.7 1834.2,1063.8 1819.0,1066.7 1803.7,1069.7 1788.5,1072.6 1773.3,1075.6 1758.0,1078.6 1742.8,1081.6 1727.6,1084.7 1712.4,1087.8 1697.1,1090.9 1681.9,1094.0 1666.7,1097.1 1651.4,1100.3 1636.2,1103.6 1621.0,1106.9 1605.8,1110.2 1590.5,1113.6 1575.3,1117.1 1560.1,1120.6 1544.8,1124.2 1529.6,1128.0 1514.4,1131.8 1499.1,1135.8 1483.9,1139.9 1468.7,1144.2 1453.5,1148.6 1438.2,1153.3 1423.0,1158.2 1407.8,1163.4 1392.5,1168.8 1377.3,1174.5 1362.1,1180.4 1346.8,1186.7 1331.6,1193.2 1316.4,1200.0 1301.2,1207.1 1285.9,1214.4 1270.7,1222.0 1255.5,1229.7 1240.2,1237.6 1225.0,1245.7" fill="#999999" fill-opacity="0.4"/>
<line x1="1225.0" y1="1196.2" x2="1834.2" y2="953.7" stroke="#E31A16" stroke-width="5.2"/>
</g>
<rect x="1194.3" y="733.3" width="671.0" height="608.0" fill="none" stroke="#1a1a1a" stroke-width="2.6"/>
<line x1="1225.0" y1="1341.3" x2="1225.0" y2="1350.8" stroke="#1a1a1a" stroke-width="2.4"/>
<text x="1222.5" y="1383.5" text-anchor="middle" font-size="36.5">0.000</text>
<line x1="1383.0" y1="1341.3" x2="1383.0" y2="1350.8" stroke="#1a1a1a" stroke-width="2.4"/>
<text x="1380.5" y="1383.5" text-anchor="middle" font-size="36.5">0.025</text>
<line x1="1540.9" y1="1341.3" x2="1540.9" y2="1350.8" stroke="#1a1a1a" stroke-width="2.4"/>
<text x="1538.4" y="1383.5" text-anchor="middle" font-size="36.5">0.050</text>
<line x1="1698.8" y1="1341.3" x2="1698.8" y2="1350.8" stroke="#1a1a1a" stroke-width="2.4"/>
<text x="1696.3" y="1383.5" text-anchor="middle" font-size="36.5">0.075</text>
<line x1="1856.8" y1="1341.3" x2="1856.8" y2="1350.8" stroke="#1a1a1a" stroke-width="2.4"/>
<text x="1888.5" y="1383.5" text-anchor="end" font-size="36.5">0.100</text>
<line x1="1184.8" y1="1338.7" x2="1194.3" y2="1338.7" stroke="#1a1a1a" stroke-width="2.4"/>
<text transform="translate(1176.5,1339.7) rotate(-90)" text-anchor="middle" font-size="36.5">0</text>
<line x1="1184.8" y1="1195.4" x2="1194.3" y2="1195.4" stroke="#1a1a1a" stroke-width="2.4"/>
<text transform="translate(1176.5,1191.9) rotate(-90)" text-anchor="middle" font-size="36.5">2000</text>
<line x1="1184.8" y1="1052.2" x2="1194.3" y2="1052.2" stroke="#1a1a1a" stroke-width="2.4"/>
<text transform="translate(1176.5,1048.7) rotate(-90)" text-anchor="middle" font-size="36.5">4000</text>
<line x1="1184.8" y1="908.9" x2="1194.3" y2="908.9" stroke="#1a1a1a" stroke-width="2.4"/>
<text transform="translate(1176.5,905.4) rotate(-90)" text-anchor="middle" font-size="36.5">6000</text>
<line x1="1184.8" y1="765.7" x2="1194.3" y2="765.7" stroke="#1a1a1a" stroke-width="2.4"/>
<text transform="translate(1176.5,762.2) rotate(-90)" text-anchor="middle" font-size="36.5">8000</text>
<text transform="translate(1130.5,1046) rotate(-90)" text-anchor="middle" font-size="40">Organic carbon content (ug C g<tspan font-size="24" dy="-13">-1</tspan><tspan dy="13">)</tspan></text>
<text x="1228.2" y="810" font-size="38" >y</text>
<text x="1262.5" y="810" font-size="38" >=</text>
<text x="1303.5" y="810" font-size="38" >1.99</text>
<text x="1383.5" y="810" font-size="38" >×</text>
<text x="1409.5" y="810" font-size="38" >10</text>
<text x="1447.3" y="783.7" font-size="26" >3</text>
<text x="1475" y="810" font-size="38" >+</text>
<text x="1519.3" y="810" font-size="38" >3.51</text>
<text x="1602" y="810" font-size="38" >×</text>
<text x="1629.5" y="810" font-size="38" >10</text>
<text x="1670.3" y="784.2" font-size="26" >4</text>
<text x="1700" y="810" font-size="38" >x</text>
<text x="1405.5" y="865.7" font-size="38" >R</text>
<text x="1430.5" y="843.0" font-size="26" >2</text>
<text x="1453.5" y="865.7" font-size="38" >=</text>
<text x="1490.5" y="865.7" font-size="38" >0.26</text>
<text x="1403.5" y="906.6" font-size="38" font-style="italic">P</text>
<text x="1450.5" y="906.6" font-size="44" >&lt;</text>
<text x="1490.5" y="906.6" font-size="38" >0.001</text>
</svg></body></html>
